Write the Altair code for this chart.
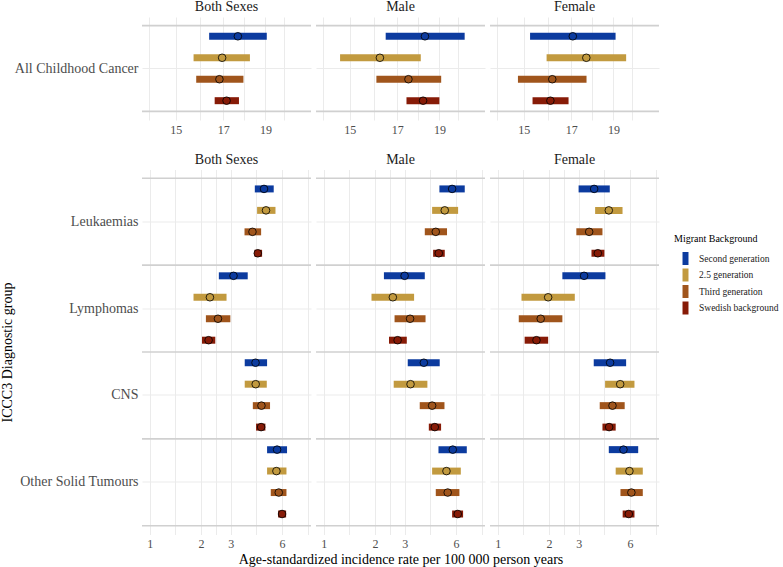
import altair as alt
import pandas as pd

FONT = "Liberation Serif"

SEXES = ["Both Sexes", "Male", "Female"]
GENERATIONS = ["Second generation", "2.5 generation", "Third generation", "Swedish background"]
COLOURS = ["#0c3b9f", "#c29a3f", "#a0551c", "#871b07"]
OVERALL = ["All Childhood Cancer"]
GROUPS = ["Leukaemias", "Lymphomas", "CNS", "Other Solid Tumours"]

# All childhood cancer: one value per generation (order of GENERATIONS)
all_est = {
    "Both Sexes": [17.67, 16.95, 16.83, 17.15],
    "Male":       [18.29, 16.24, 17.51, 18.20],
    "Female":     [17.07, 17.69, 16.17, 16.09],
}
all_lo = {
    "Both Sexes": [16.38, 15.72, 15.83, 16.62],
    "Male":       [16.49, 14.62, 16.09, 17.42],
    "Female":     [15.25, 15.93, 14.77, 15.35],
}
all_hi = {
    "Both Sexes": [19.07, 18.24, 17.93, 17.72],
    "Male":       [20.31, 18.09, 19.09, 19.00],
    "Female":     [19.11, 19.65, 17.70, 16.88],
}

# Diagnostic groups: 4 groups x 4 generations, group by group
grp_est = {
    "Both Sexes": [4.70, 4.83, 4.02, 4.32,  3.11, 2.26, 2.52, 2.22,  4.19, 4.20, 4.54, 4.52,  5.61, 5.56, 5.74, 6.00],
    "Male":       [5.69, 5.15, 4.56, 4.75,  2.99, 2.55, 3.22, 2.72,  3.88, 3.24, 4.34, 4.50,  5.74, 5.27, 5.36, 6.14],
    "Female":     [3.69, 4.50, 3.45, 3.88,  3.22, 1.98, 1.79, 1.69,  4.58, 5.25, 4.73, 4.52,  5.49, 5.95, 6.11, 5.90],
}
grp_lo = {
    "Both Sexes": [4.15, 4.28, 3.61, 4.13,  2.55, 1.81, 2.14, 2.03,  3.62, 3.62, 4.04, 4.22,  4.90, 4.90, 5.15, 5.69],
    "Male":       [4.79, 4.34, 3.93, 4.40,  2.26, 1.91, 2.61, 2.42,  3.12, 2.58, 3.67, 4.15,  4.73, 4.34, 4.56, 5.69],
    "Female":     [2.99, 3.74, 2.90, 3.56,  2.40, 1.38, 1.33, 1.44,  3.67, 4.28, 3.98, 4.13,  4.50, 4.94, 5.27, 5.43],
}
grp_hi = {
    "Both Sexes": [5.36, 5.49, 4.52, 4.58,  3.77, 2.83, 2.98, 2.43,  4.90, 4.88, 5.10, 4.79,  6.42, 6.37, 6.37, 6.34],
    "Male":       [6.75, 6.17, 5.31, 5.15,  3.93, 3.40, 3.97, 3.08,  4.81, 4.07, 5.13, 4.90,  6.94, 6.40, 6.28, 6.60],
    "Female":     [4.56, 5.42, 4.13, 4.24,  4.30, 2.84, 2.40, 1.98,  5.69, 6.37, 5.58, 4.94,  6.70, 7.13, 7.13, 6.37],
}

# x axes: major labelled breaks plus unlabelled log-midpoint grid lines
TOP_MAJOR = [15, 17, 19]
TOP_GRID = [13.964, 15, 15.969, 17, 17.972, 19, 19.975]
TOP_DOMAIN = [13.72, 21.43]
BOT_MAJOR = [1, 2, 3, 6]
BOT_GRID = [1, 1.4142, 2, 2.4495, 3, 4.2426, 6, 8.4853]
BOT_DOMAIN = [0.901, 8.88]


def frame(groups, est, lo, hi):
    rows = []
    for sex in SEXES:
        for i, g in enumerate(groups):
            for j, gen in enumerate(GENERATIONS):
                k = i * len(GENERATIONS) + j
                rows.append({"sex": sex, "group": g, "gen": gen,
                             "est": est[sex][k], "lo": lo[sex][k], "hi": hi[sex][k]})
    return pd.DataFrame(rows)


top_df = frame(OVERALL, all_est, all_lo, all_hi)
bot_df = frame(GROUPS, grp_est, grp_lo, grp_hi)

colour_scale = alt.Scale(domain=GENERATIONS, range=COLOURS)
offset_scale = alt.Scale(domain=GENERATIONS, paddingInner=0, paddingOuter=0)

legend = alt.Legend(
    title="Migrant Background", orient="none", legendX=532, legendY=217,
    symbolType="M-0.46,-1L0.46,-1L0.46,1L-0.46,1Z", symbolSize=169,
    symbolStrokeWidth=0, symbolOffset=5, titleFont=FONT, titleFontSize=10,
    titleFontWeight="normal", titleColor="black", labelFont=FONT,
    labelFontSize=9.5, labelColor="#1a1a1a", rowPadding=3.5, labelOffset=7,
    titlePadding=8,
)


def panel(df, groups, sex, xdom, xgrid, xmajor, height, first,
          xtitle=None, ytitle=None):
    d = df[df["sex"] == sex]
    yscale = alt.Scale(domain=groups, paddingInner=0, paddingOuter=0.1)
    if first:
        yaxis = alt.Axis(title=ytitle, ticks=False, domain=False, grid=True,
                         bandPosition=0.5, gridColor="#ebebeb",
                         labelFont=FONT, labelFontSize=14, labelColor="#4d4d4d",
                         labelPadding=4, titleFont=FONT, titleFontSize=14,
                         titleFontWeight="normal", titleColor="black",
                         titlePadding=5)
    else:
        yaxis = alt.Axis(title=None, labels=False, ticks=False, domain=False,
                         grid=True, bandPosition=0.5, gridColor="#ebebeb")
    majors = ",".join(str(v) for v in xmajor)
    xscale = alt.Scale(type="log", domain=xdom, nice=False)
    xaxis = alt.Axis(values=xgrid, title=xtitle, ticks=False, domain=False,
                     grid=True, gridColor="#ebebeb",
                     labelExpr=f"indexof([{majors}], datum.value) >= 0 ? format(datum.value, 'd') : ''",
                     labelFont=FONT, labelFontSize=12, labelColor="#4d4d4d",
                     labelPadding=4, titleFont=FONT, titleFontSize=14,
                     titleFontWeight="normal", titleColor="black",
                     titlePadding=3)

    sep_df = pd.DataFrame({"group": groups})
    sep_start = alt.Chart(sep_df).mark_rule(color="#d0d0d0", strokeWidth=1.6).encode(
        y=alt.Y("group:N", bandPosition=0, scale=yscale, axis=yaxis))
    sep_end = alt.Chart(sep_df.tail(1)).mark_rule(color="#d0d0d0", strokeWidth=1.6).encode(
        y=alt.Y("group:N", bandPosition=1, scale=yscale, axis=yaxis))

    bars = alt.Chart(d).mark_bar(size=7).encode(
        x=alt.X("lo:Q", scale=xscale, axis=xaxis),
        x2="hi:Q",
        y=alt.Y("group:N", scale=yscale, axis=yaxis),
        yOffset=alt.YOffset("gen:N", scale=offset_scale),
        color=alt.Color("gen:N", scale=colour_scale, legend=legend),
    )
    pts = alt.Chart(d).mark_point(shape="circle", size=58, stroke="black",
                                  strokeWidth=0.8, opacity=1, fillOpacity=1).encode(
        x=alt.X("est:Q", scale=xscale, axis=xaxis),
        y=alt.Y("group:N", scale=yscale, axis=yaxis),
        yOffset=alt.YOffset("gen:N", scale=offset_scale),
        fill=alt.Fill("gen:N", scale=colour_scale, legend=None),
    )
    return alt.layer(sep_start, sep_end, bars, pts).properties(
        width=169, height=height,
        title=alt.TitleParams(sex, font=FONT, fontSize=14, fontWeight="normal",
                              color="#1a1a1a", anchor="middle", offset=3),
    )


panels = []
for i, sex in enumerate(SEXES):
    panels.append(panel(top_df, OVERALL, sex, TOP_DOMAIN, TOP_GRID, TOP_MAJOR,
                        103, i == 0))
for i, sex in enumerate(SEXES):
    panels.append(panel(
        bot_df, GROUPS, sex, BOT_DOMAIN, BOT_GRID, BOT_MAJOR, 365, i == 0,
        xtitle="Age-standardized incidence rate per 100 000 person years" if i == 1 else None,
        ytitle="ICCC3 Diagnostic group" if i == 0 else None,
    ))

chart = alt.concat(
    *panels, columns=3, spacing={"row": 49.5, "column": 5}, bounds="flush",
).properties(
    padding={"left": 0, "top": 0, "right": 0, "bottom": 0},
    background="white",
).configure_view(stroke=None)

chart.save("out.html", embed_options={"renderer": "svg", "actions": False})
